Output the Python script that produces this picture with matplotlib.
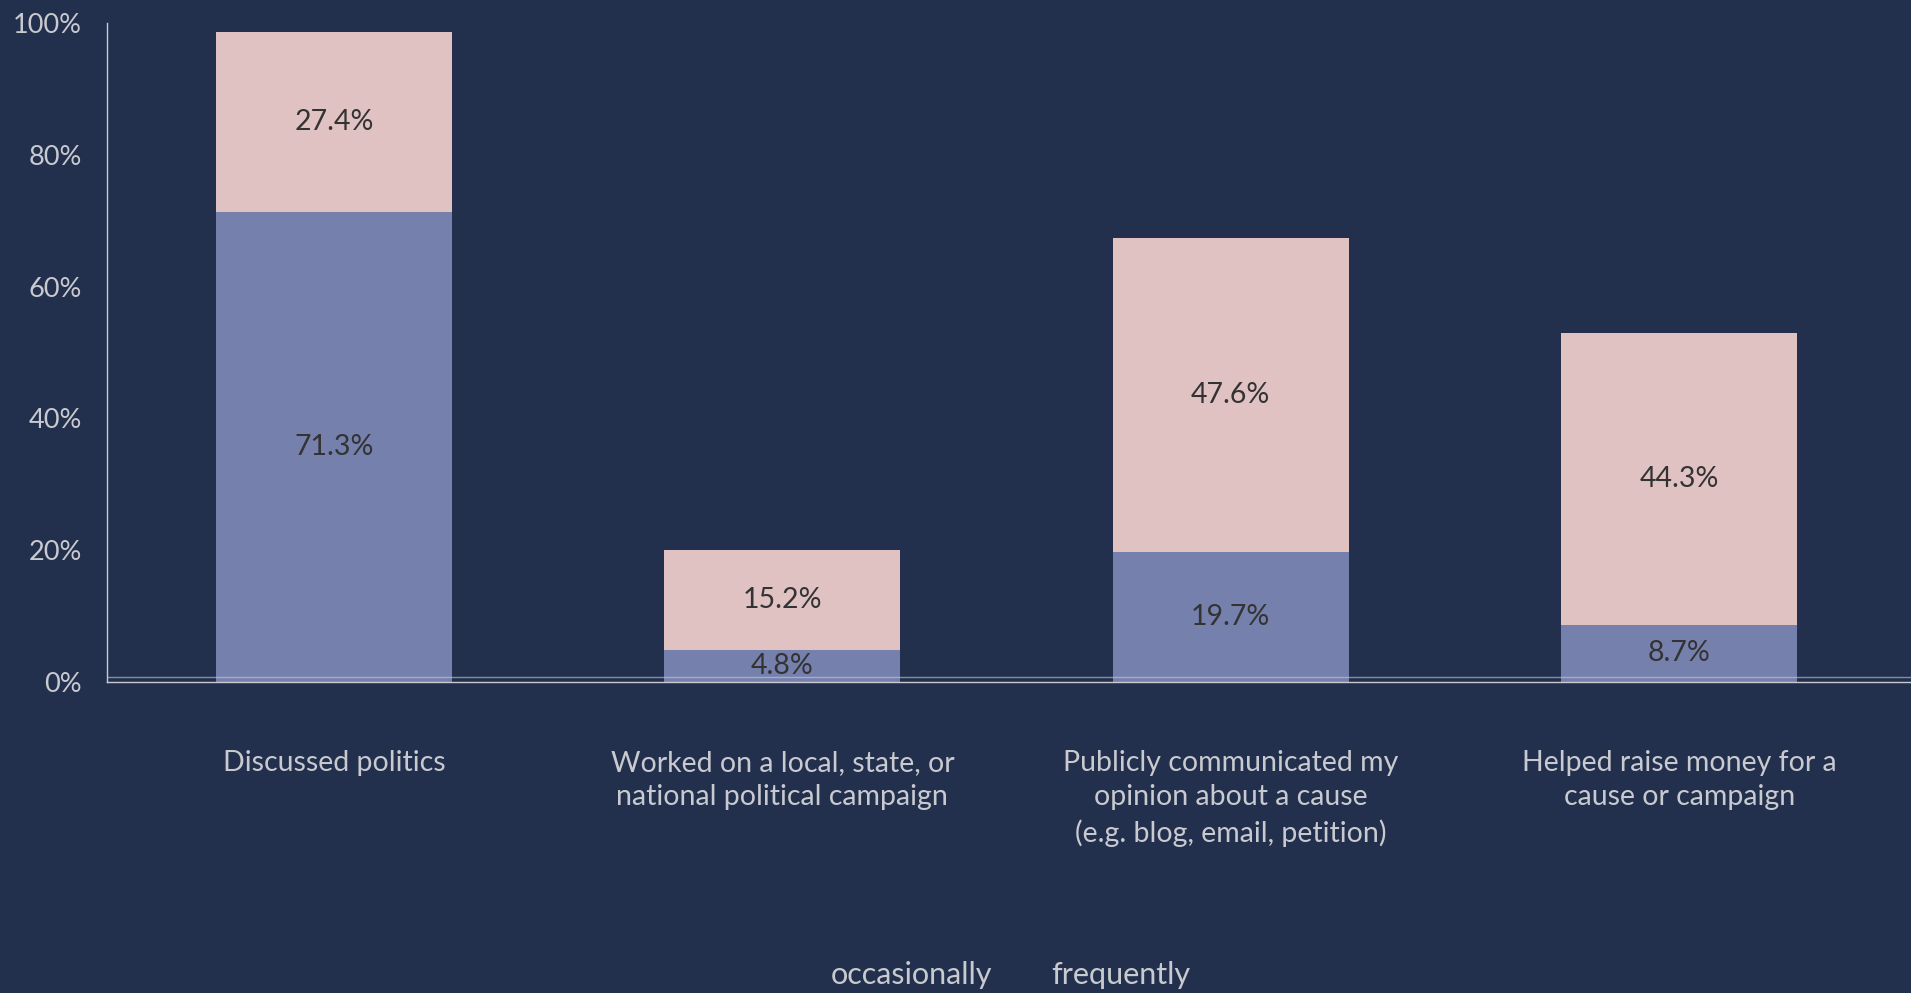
import matplotlib
matplotlib.use("Agg")
import matplotlib.pyplot as plt
import numpy as np

categories = [
    "Discussed politics",
    "Worked on a local, state, or\nnational political campaign",
    "Publicly communicated my\nopinion about a cause\n(e.g. blog, email, petition)",
    "Helped raise money for a\ncause or campaign",
]
occasionally = [71.3, 4.8, 19.7, 8.7]
frequently = [27.4, 15.2, 47.6, 44.3]
series_names = ["occasionally", "frequently"]
yticks = [0, 20, 40, 60, 80, 100]
ytick_labels = ["0%", "20%", "40%", "60%", "80%", "100%"]

BG = "#22304E"
BLUE = "#7580AC"
PINK = "#E0C2C3"
LIGHT = "#C9CACF"
DARK = "#333333"

plt.rcParams['font.family'] = ['Lato', 'DejaVu Sans']

fig = plt.figure(figsize=(19.11, 9.93), dpi=100, facecolor=BG)
bottom = 1 - 682 / 993
top = 1 - 23 / 993
ax = fig.add_axes([0.056, bottom, 0.944, top - bottom])
ax.set_facecolor(BG)

x = np.arange(len(categories))
w = 0.526
ax.bar(x, occasionally, width=w, color=BLUE, zorder=2, label=series_names[0])
ax.bar(x, frequently, width=w, bottom=occasionally, color=PINK, zorder=2, label=series_names[1])

for i in range(len(categories)):
    ax.text(x[i], occasionally[i] / 2, f"{occasionally[i]:.1f}%", ha="center", va="center",
            color=DARK, fontsize=20.5, zorder=4)
    ax.text(x[i], occasionally[i] + frequently[i] / 2, f"{frequently[i]:.1f}%", ha="center",
            va="center", color=DARK, fontsize=20.5, zorder=4)

ax.set_xlim(-0.506, 3.517)
ax.set_ylim(0, 100)
ax.set_yticks(yticks)
ax.set_yticklabels(ytick_labels)
ax.set_xticks(x)
ax.set_xticklabels(categories, multialignment="center", linespacing=1.4)
ax.tick_params(axis="y", length=0, pad=18, labelsize=19.5, labelcolor=LIGHT)
ax.tick_params(axis="x", length=0, pad=49, labelsize=20.5, labelcolor=LIGHT)

for s in ["top", "right"]:
    ax.spines[s].set_visible(False)
ax.spines["left"].set_color(LIGHT)
ax.spines["left"].set_linewidth(1)
ax.spines["bottom"].set_color(LIGHT)
ax.spines["bottom"].set_linewidth(1)
ax.axhline(0.7, color=LIGHT, lw=1, alpha=0.6, zorder=3)

fig.text(912 / 1911, 1 - 975 / 993, series_names[0], ha="center", va="center",
         color=LIGHT, fontsize=22)
fig.text(1121 / 1911, 1 - 975 / 993, series_names[1], ha="center", va="center",
         color=LIGHT, fontsize=22)

fig.savefig("out.png", dpi=100, facecolor=BG)
